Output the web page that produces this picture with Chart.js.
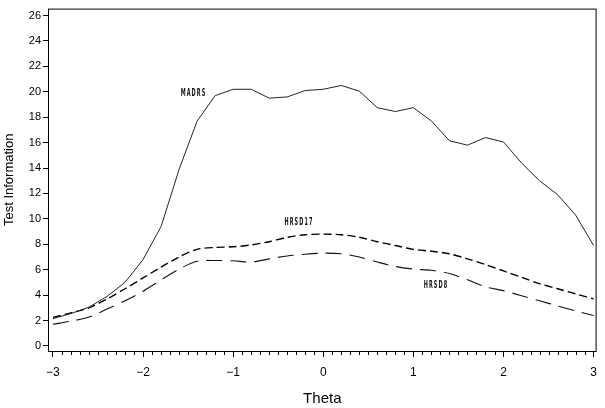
<!DOCTYPE html>
<html lang="en">
<head>
<meta charset="UTF-8">
<title>Test Information by Theta</title>
<script src="https://cdn.jsdelivr.net/npm/chart.js"></script>
<style>
  html, body { margin: 0; padding: 0; background: #fff; }
  #wrap { width: 605px; height: 408px; }
</style>
</head>
<body>
<div id="wrap"><canvas id="infoChart"></canvas></div>
<script>
// theta grid (step 0.2)
const theta = [-3, -2.8, -2.6, -2.4, -2.2, -2, -1.8, -1.6, -1.4, -1.2, -1, -0.8, -0.6, -0.4, -0.2,
               0, 0.2, 0.4, 0.6, 0.8, 1, 1.2, 1.4, 1.6, 1.8, 2, 2.2, 2.4, 2.6, 2.8, 3];

// test information
const madrs = [2.15, 2.55, 3.05, 3.9, 5.0, 6.8, 9.4, 13.9, 17.7, 19.7, 20.2, 20.2, 19.5, 19.6, 20.1,
               20.2, 20.5, 20.05, 18.75, 18.45, 18.75, 17.7, 16.15, 15.8, 16.4, 16.05, 14.4, 13.0, 11.9, 10.3, 7.9];
const hrsd17 = [2.25, 2.6, 3.0, 3.7, 4.5, 5.35, 6.2, 7.0, 7.6, 7.75, 7.8, 7.95, 8.2, 8.55, 8.75,
                8.8, 8.75, 8.55, 8.2, 7.9, 7.6, 7.45, 7.25, 6.85, 6.4, 5.9, 5.4, 4.9, 4.5, 4.1, 3.7];
const hrsd8 = [1.7, 1.95, 2.27, 2.9, 3.55, 4.3, 5.2, 6.05, 6.67, 6.72, 6.7, 6.6, 6.85, 7.08, 7.22,
               7.3, 7.25, 7.0, 6.6, 6.25, 6.05, 5.95, 5.7, 5.2, 4.65, 4.35, 3.95, 3.55, 3.15, 2.75, 2.4];

const xTicks = [-3, -2, -1, 0, 1, 2, 3];
const yTicks = [0, 2, 4, 6, 8, 10, 12, 14, 16, 18, 20, 22, 24, 26];

const seriesNames = ['MADRS', 'HRSD17', 'HRSD8'];

function pts(ys) {
    return theta.map((t, i) => ({ x: t, y: ys[i] }));
}

// frame, minor x ticks and in-plot curve labels
const framePlugin = {
    id: 'frame',
    afterDraw(chart) {
        const ctx = chart.ctx;
        const a = chart.chartArea;
        const xs = chart.scales.x;
        ctx.save();
        ctx.strokeStyle = '#000';
        ctx.lineWidth = 1;
        ctx.strokeRect(a.left + 0.5, a.top + 0.5, a.right - a.left - 1, a.bottom - a.top);

        // minor ticks every 0.1
        ctx.beginPath();
        for (let k = -30; k <= 30; k++) {
            if (k % 10 === 0) continue;
            const px = Math.round(xs.getPixelForValue(k / 10)) + 0.5;
            ctx.moveTo(px, a.bottom);
            ctx.lineTo(px, a.bottom + 4);
        }
        ctx.stroke();

        // curve labels, squeezed sideways like the original
        const labels = chart.options.plugins.frame.labels;
        ctx.fillStyle = '#111';
        ctx.font = 'bold 10px "DejaVu Sans Condensed", "DejaVu Sans", sans-serif';
        ctx.letterSpacing = '2px';
        ctx.textAlign = 'center';
        ctx.textBaseline = 'middle';
        labels.forEach(l => {
            const px = xs.getPixelForValue(l.x);
            const py = chart.scales.y.getPixelForValue(l.y);
            ctx.save();
            ctx.translate(px, py);
            ctx.scale(0.55, 1);
            ctx.fillText(l.text, 0, 0);
            ctx.restore();
        });
        ctx.restore();
    }
};

new Chart(document.getElementById('infoChart'), {
    type: 'line',
    data: {
        datasets: [
            {
                label: seriesNames[0],
                data: pts(madrs),
                borderColor: '#222',
                borderWidth: 1,
                pointRadius: 0,
                tension: 0,
                fill: false
            },
            {
                label: seriesNames[1],
                data: pts(hrsd17),
                borderColor: '#000',
                borderWidth: 1.4,
                borderDash: [8, 4],
                pointRadius: 0,
                tension: 0.3,
                fill: false
            },
            {
                label: seriesNames[2],
                data: pts(hrsd8),
                borderColor: '#111',
                borderWidth: 1.1,
                borderDash: [16, 8],
                pointRadius: 0,
                tension: 0.3,
                fill: false
            }
        ]
    },
    options: {
        responsive: true,
        maintainAspectRatio: false,
        animation: false,
        layout: { padding: { left: 0, top: 4, right: 6, bottom: 0 } },
        plugins: {
            legend: { display: false },
            tooltip: { enabled: false },
            frame: {
                labels: [
                    { text: seriesNames[0], x: -1.44, y: 19.9 },
                    { text: seriesNames[1], x: -0.27, y: 9.75 },
                    { text: seriesNames[2], x: 1.25, y: 4.75 }
                ]
            }
        },
        scales: {
            x: {
                type: 'linear',
                min: -3.055,
                max: 3.033,
                afterBuildTicks: s => { s.ticks = xTicks.map(v => ({ value: v })); },
                afterFit: s => { s.height = 57; },
                border: { display: false },
                grid: { drawOnChartArea: false, tickLength: 6, color: '#000' },
                ticks: {
                    color: '#000',
                    padding: 8,
                    maxRotation: 0,
                    autoSkip: false,
                    font: { family: '"Liberation Sans", Arial, sans-serif', size: 12 },
                    callback: v => (v < 0 ? '\u2212' + Math.abs(v) : String(v))
                },
                title: {
                    display: true,
                    text: 'Theta',
                    color: '#000',
                    font: { family: '"Liberation Sans", Arial, sans-serif', size: 15 },
                    padding: { top: 0, bottom: 0 }
                }
            },
            y: {
                min: -0.4,
                max: 26.55,
                afterBuildTicks: s => { s.ticks = yTicks.map(v => ({ value: v })); },
                afterFit: s => { s.width = 48; },
                border: { display: false },
                grid: { drawOnChartArea: false, tickLength: 5, color: '#000' },
                ticks: {
                    color: '#000',
                    padding: 2,
                    autoSkip: false,
                    font: { family: '"Liberation Sans", Arial, sans-serif', size: 11 }
                },
                title: {
                    display: true,
                    text: 'Test Information',
                    color: '#000',
                    font: { family: '"Liberation Sans", Arial, sans-serif', size: 13 },
                    padding: { top: 2, bottom: 0 }
                }
            }
        }
    },
    plugins: [framePlugin]
});
</script>
</body>
</html>
